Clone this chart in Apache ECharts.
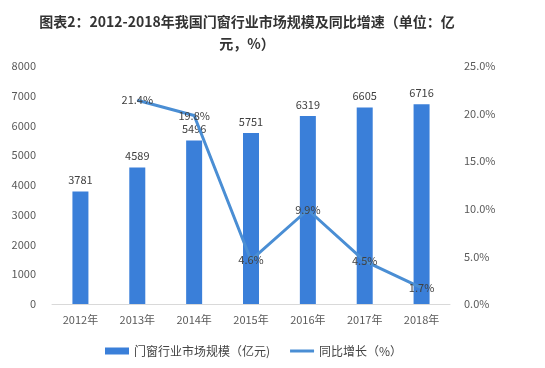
<!DOCTYPE html>
<html><head><meta charset="utf-8">
<script src="https://cdn.jsdelivr.net/npm/echarts@6/dist/echarts.min.js"></script>
<style>html,body{margin:0;padding:0;background:#fff}#c{width:545px;height:368px}</style>
</head><body><div id="c"></div>
<script>
const categories = ['2012年','2013年','2014年','2015年','2016年','2017年','2018年'];
const marketSize = [3781, 4589, 5496, 5751, 6319, 6605, 6716];
const growth = [null, 21.4, 19.8, 4.6, 9.9, 4.5, 1.7];
const leftTicks = [0, 8000, 1000];
const rightTicks = [0, 25, 5];
const FONT = '"Microsoft YaHei","Noto Sans CJK SC",sans-serif';
const chart = echarts.init(document.getElementById('c'));
chart.setOption({
  animation: false,
  backgroundColor: '#fff',
  title: {
    text: '图表2：2012-2018年我国门窗行业市场规模及同比增速（单位：亿\n元，%）',
    left: 242, textAlign: 'center', top: 6,
    textStyle: {fontSize: 14, fontWeight: 'bold', color: '#333', lineHeight: 22, fontFamily: FONT}
  },
  grid: {left: 52, right: 95, top: 66, bottom: 64, containLabel: false},
  legend: {
    bottom: 6, left: 100, itemGap: 20, itemWidth: 24, itemHeight: 7,
    textStyle: {fontSize: 12, color: '#444', fontFamily: FONT},
    data: [{name: '门窗行业市场规模（亿元)', icon: 'rect'},
           {name: '同比增长（%）', icon: 'path://M0,0 L24,0 L24,3 L0,3 Z'}]
  },
  xAxis: {
    type: 'category', data: categories,
    axisLine: {lineStyle: {color: '#d9d9d9'}}, axisTick: {show: false},
    axisLabel: {color: '#595959', fontSize: 11, margin: 10, fontFamily: FONT}
  },
  yAxis: [{
    type: 'value', min: leftTicks[0], max: leftTicks[1], interval: leftTicks[2],
    splitLine: {show: false}, axisLine: {show: false}, axisTick: {show: false},
    axisLabel: {color: '#595959', fontSize: 11, margin: 16, fontFamily: FONT,
      formatter: v => String(v)}
  }, {
    type: 'value', min: rightTicks[0], max: rightTicks[1], interval: rightTicks[2],
    splitLine: {show: false}, axisLine: {show: false}, axisTick: {show: false},
    axisLabel: {color: '#595959', fontSize: 11, margin: 14, fontFamily: FONT,
      formatter: v => v.toFixed(1) + '%'}
  }],
  series: [{
    name: '门窗行业市场规模（亿元)', type: 'bar', data: marketSize, barWidth: 16,
    itemStyle: {color: '#3a7fd9'},
    label: {show: true, position: 'top', color: '#404040', fontSize: 11, distance: 6, fontFamily: FONT}
  }, {
    name: '同比增长（%）', type: 'line', yAxisIndex: 1, data: growth,
    symbol: 'circle', symbolSize: 1, showSymbol: true,
    lineStyle: {color: '#4a8ed4', width: 3}, itemStyle: {color: '#4a8ed4'},
    label: {show: true, position: 'inside', color: '#404040', fontSize: 11, fontFamily: FONT,
      formatter: p => p.value.toFixed(1) + '%'}
  }]
});
</script></body></html>
